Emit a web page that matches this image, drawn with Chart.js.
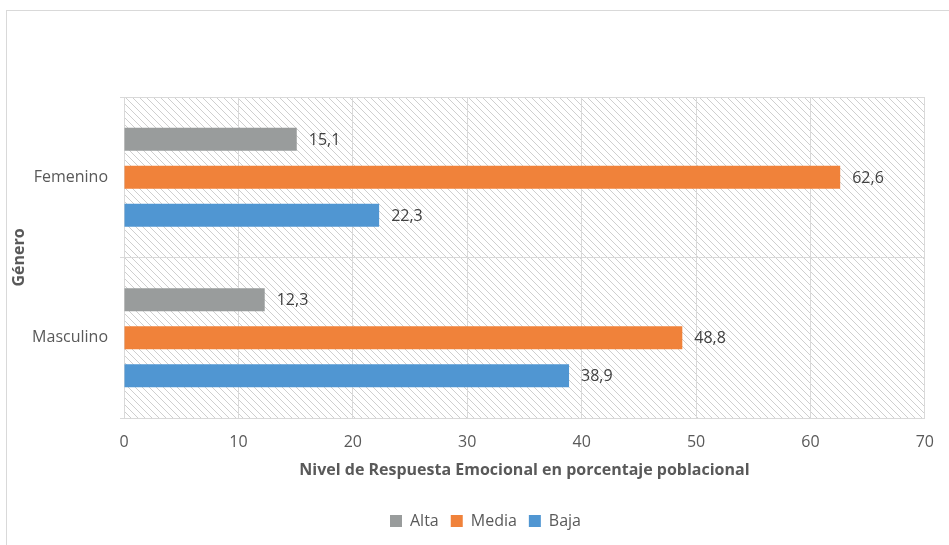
<!DOCTYPE html>
<html>
<head>
<meta charset="utf-8">
<script src="https://cdn.jsdelivr.net/npm/chart.js@4"></script>
<style>
    html, body { margin: 0; padding: 0; background: #fff; overflow: hidden; }
    #wrap { position: relative; width: 949px; height: 545px; }
    #frame { position: absolute; left: 6px; top: 10px; width: 980px; height: 600px; border: 1px solid #d9d9d9; box-sizing: border-box; }
    canvas { position: absolute; left: 0; top: 0; }
</style>
</head>
<body>
<div id="wrap">
    <div id="frame"></div>
    <canvas id="chart" width="949" height="545"></canvas>
</div>
<script>
// data
var categories = ['Femenino', 'Masculino'];
var seriesNames = ['Alta', 'Media', 'Baja'];
var alta = [15.1, 12.3];
var media = [62.6, 48.8];
var baja = [22.3, 38.9];
var xMin = 0, xMax = 70, xStep = 10;

var colors = ['#999c9c', '#f0823a', '#5096d2'];
var textColor = '#595959';
var fontFamily = '"Open Sans", Lato, sans-serif';

// hatched plot background
function makeHatch() {
    var c = document.createElement('canvas');
    c.width = 7; c.height = 7;
    var p = c.getContext('2d');
    p.strokeStyle = '#cfcfcf';
    p.lineWidth = 1;
    p.beginPath();
    p.moveTo(-1, -1); p.lineTo(8, 8);
    p.moveTo(-1, 6); p.lineTo(1, 8);
    p.moveTo(6, -1); p.lineTo(8, 1);
    p.stroke();
    return c;
}

var hatchPlugin = {
    id: 'hatch',
    beforeDraw: function(chart) {
        var a = chart.chartArea;
        var ctx = chart.ctx;
        ctx.save();
        ctx.fillStyle = ctx.createPattern(makeHatch(), 'repeat');
        ctx.fillRect(a.left, a.top, a.right - a.left, a.bottom - a.top);
        ctx.restore();
    }
};

// legend sits centred on the frame, a bit right of the canvas centre
var legendShift = {
    id: 'legendShift',
    afterLayout: function(chart) {
        chart.legend.left += 22;
        chart.legend.right += 22;
    }
};

var valueLabels = {
    id: 'valueLabels',
    afterDatasetsDraw: function(chart) {
        var ctx = chart.ctx;
        ctx.save();
        ctx.font = '16px ' + fontFamily;
        ctx.fillStyle = '#404040';
        ctx.textBaseline = 'middle';
        ctx.textAlign = 'left';
        chart.data.datasets.forEach(function(ds, i) {
            chart.getDatasetMeta(i).data.forEach(function(bar, j) {
                var txt = String(ds.data[j]).replace('.', ',');
                ctx.fillText(txt, bar.x + 12, bar.y + 1);
            });
        });
        ctx.restore();
    }
};

var ctx = document.getElementById('chart').getContext('2d');
var chart = new Chart(ctx, {
    type: 'bar',
    data: {
        labels: categories,
        datasets: [
            { label: seriesNames[0], data: alta, backgroundColor: colors[0] },
            { label: seriesNames[1], data: media, backgroundColor: colors[1] },
            { label: seriesNames[2], data: baja, backgroundColor: colors[2] }
        ]
    },
    options: {
        indexAxis: 'y',
        responsive: false,
        animation: false,
        categoryPercentage: 0.71,
        barPercentage: 0.61,
        layout: { padding: { top: 97, right: 22, bottom: 6, left: 0 } },
        plugins: {
            tooltip: { enabled: false },
            legend: {
                position: 'bottom',
                labels: {
                    boxWidth: 12,
                    boxHeight: 12,
                    padding: 12,
                    color: textColor,
                    font: { family: fontFamily, size: 16 }
                }
            }
        },
        scales: {
            x: {
                min: xMin,
                max: xMax,
                ticks: { stepSize: xStep, padding: 15, color: textColor, font: { family: fontFamily, size: 16 } },
                grid: { color: '#d9d9d9', drawTicks: false },
                border: { color: '#d9d9d9' },
                title: {
                    display: true,
                    text: 'Nivel de Respuesta Emocional en porcentaje poblacional',
                    color: textColor,
                    font: { family: fontFamily, size: 16, weight: 'bold' },
                    padding: { top: 0, bottom: 21 }
                },
                afterFit: function(scale) { scale.height = 83; }
            },
            y: {
                ticks: { padding: 12, color: textColor, font: { family: fontFamily, size: 16 } },
                grid: { color: '#d9d9d9', tickLength: 4 },
                border: { color: '#d9d9d9' },
                title: {
                    display: true,
                    text: 'Género',
                    color: textColor,
                    font: { family: fontFamily, size: 16, weight: 'bold' },
                    padding: { top: 10, bottom: 0 }
                },
                afterFit: function(scale) { scale.width = 124; }
            }
        }
    },
    plugins: [hatchPlugin, legendShift, valueLabels]
});
</script>
</body>
</html>
